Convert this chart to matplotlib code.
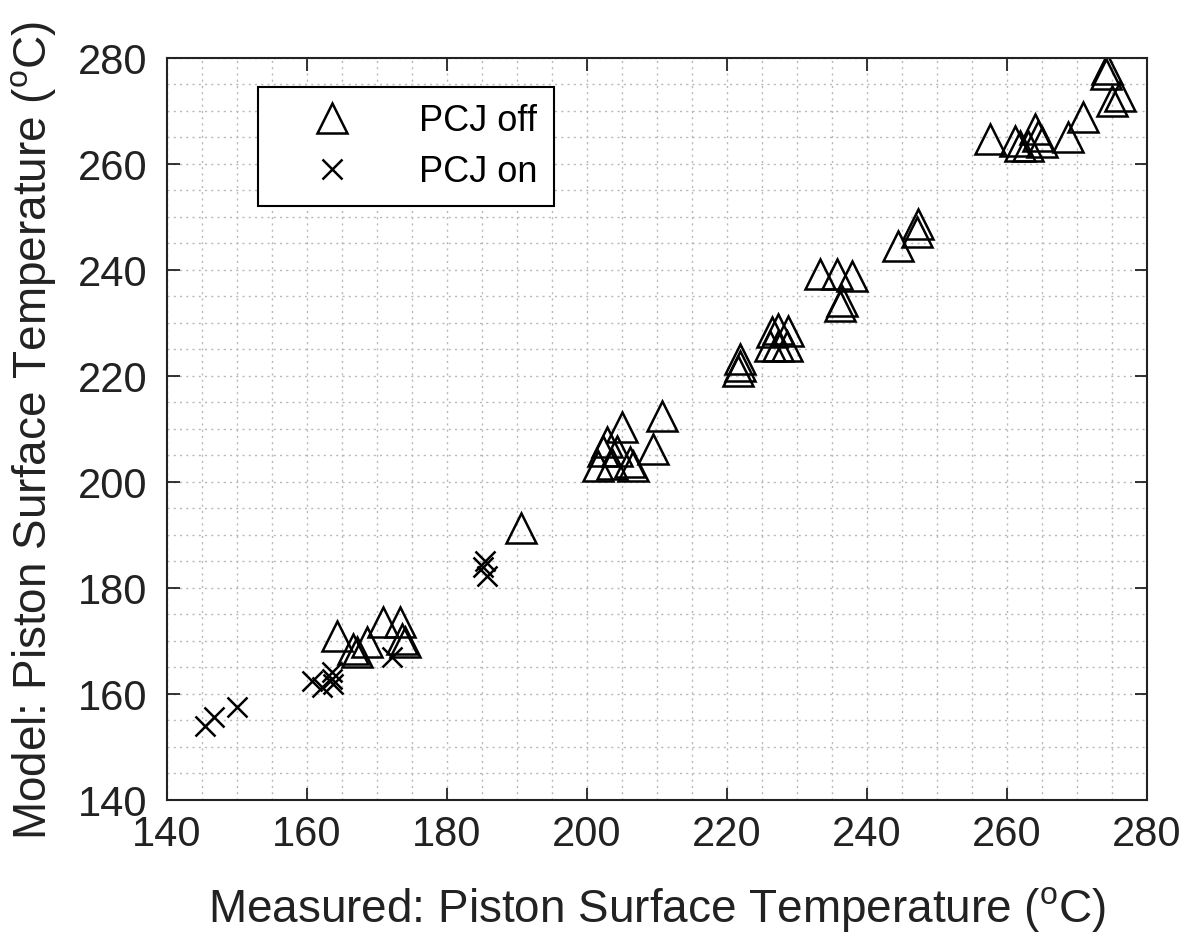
import matplotlib
matplotlib.use('Agg')
import matplotlib.pyplot as plt
from matplotlib.ticker import MultipleLocator

plt.rcParams['font.family'] = ['Liberation Sans', 'DejaVu Sans']
plt.rcParams['mathtext.fontset'] = 'custom'
plt.rcParams['mathtext.rm'] = 'Liberation Sans'

# PCJ off (triangles): measured vs model
off_meas = [164.3, 166.6, 167.1, 168.6, 170.9, 173.3, 173.6, 174.0,
            190.6,
            205.0, 210.7, 209.4, 202.3, 201.6, 204.3, 206.1, 206.6, 203.6, 202.9,
            221.9, 221.9, 221.6, 226.4, 227.3, 228.7, 227.3, 228.6, 226.1,
            233.3, 235.7, 237.9, 236.1, 236.4,
            244.4, 247.3, 247.1,
            257.6, 261.1, 261.9, 264.0, 264.4, 265.0, 263.0, 268.7, 270.9,
            274.3, 274.1, 276.1, 275.0]
off_model = [170.9, 168.5, 167.9, 169.8, 173.6, 173.6, 170.4, 169.8,
             191.4,
             210.4, 212.5, 206.2, 205.8, 203.0, 205.8, 203.8, 203.0, 203.4, 207.5,
             223.2, 221.9, 220.9, 228.3, 228.9, 228.5, 225.7, 225.7, 225.7,
             239.2, 239.2, 238.9, 233.2, 234.2,
             244.5, 248.7, 247.2,
             264.7, 264.3, 263.4, 266.6, 265.3, 264.2, 263.4, 265.1, 268.9,
             277.9, 277.0, 272.8, 271.9]

# PCJ on (crosses)
on_meas = [145.4, 146.7, 150.0, 160.7, 162.1, 163.6, 163.7, 163.6, 172.1,
           185.4, 185.7, 185.1]
on_model = [154.0, 155.7, 157.5, 162.5, 161.3, 162.8, 161.9, 164.2, 167.0,
            185.1, 182.3, 184.0]

fig = plt.figure(figsize=(11.97, 9.45), dpi=100)
ax = fig.add_axes([0.1395, 0.1524, 0.8187, 0.7852])

ax.plot(off_meas, off_model, linestyle='none', marker='^', markersize=22,
        markerfacecolor='none', markeredgecolor='black', markeredgewidth=1.8,
        label='PCJ off')
ax.plot(on_meas, on_model, linestyle='none', marker='x', markersize=15,
        markeredgecolor='black', markeredgewidth=1.8, label='PCJ on')

ax.set_xlim(140, 280)
ax.set_ylim(140, 280)
ax.xaxis.set_major_locator(MultipleLocator(20))
ax.yaxis.set_major_locator(MultipleLocator(20))
ax.xaxis.set_minor_locator(MultipleLocator(5))
ax.yaxis.set_minor_locator(MultipleLocator(5))
ax.grid(which='both', linestyle=(0, (1.5, 3)), color='#b8b8b8', linewidth=1.0)
ax.set_axisbelow(True)

ax.tick_params(which='major', direction='in', length=9, width=1.3,
               top=True, right=True, labelsize=30, colors='#222222')
ax.tick_params(axis='x', pad=10)
ax.tick_params(axis='y', pad=14)
ax.tick_params(which='minor', length=0)
for s in ax.spines.values():
    s.set_linewidth(1.5)
    s.set_color('#222222')

ax.set_xlabel(r'Measured: Piston Surface Temperature ($^{\mathrm{o}}$C)',
              fontsize=33, color='#222222', labelpad=22)
ax.set_ylabel(r'Model: Piston Surface Temperature ($^{\mathrm{o}}$C)',
              fontsize=33, color='#222222', labelpad=14)

leg = ax.legend(loc='upper left', bbox_to_anchor=(0.093, 0.961), fontsize=26,
                fancybox=False, edgecolor='black', framealpha=1,
                handlelength=3.2, handletextpad=0.8, borderpad=0.45,
                labelspacing=0.45, markerscale=1.0, borderaxespad=0)
leg.get_frame().set_linewidth(1.5)

fig.savefig('out.png', dpi=100)
